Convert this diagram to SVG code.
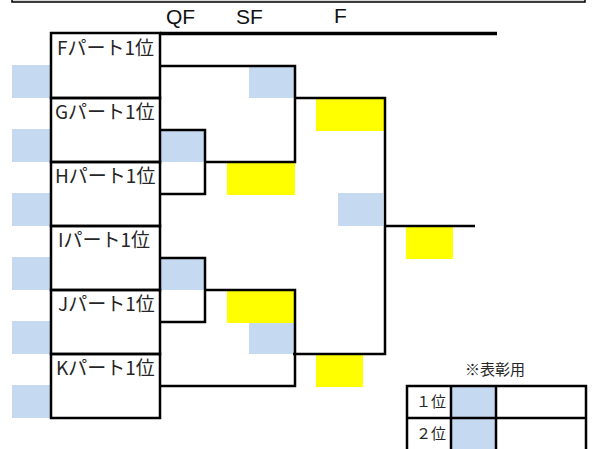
<svg xmlns="http://www.w3.org/2000/svg" width="593" height="449" viewBox="0 0 593 449">
<style>
.bg{fill:#ffffff}
.blue{fill:#C5D9F1}
.yel{fill:#FFFF00}
.ln{fill:none;stroke:#000;stroke-width:2.5}
.box{fill:none;stroke:#000;stroke-width:2.5}
.nm{font-family:"Noto Sans CJK JP","Noto Sans",sans-serif;font-size:19px;fill:#262626}
.hd{font-family:"Liberation Sans",Arial,sans-serif;font-size:21px;fill:#111}
.sm{font-family:"Noto Sans CJK JP","Noto Sans",sans-serif;font-size:15px;fill:#262626}
</style>
<rect class="bg" x="0" y="0" width="593" height="449"/>
<rect x="12" y="-10" width="573" height="12" fill="#d9d9d9" stroke="#000" stroke-width="1.5"/>
<g id="headers">
<text class="hd" x="166" y="24">QF</text>
<text class="hd" x="236" y="24">SF</text>
<text class="hd" x="334" y="23">F</text>
<path d="M160,33.5 H497" stroke="#000" stroke-width="3.5"/>
</g>
<g id="seed-cells">
<rect class="blue" x="12" y="65" width="39" height="33"/>
<rect class="blue" x="12" y="129" width="39" height="33"/>
<rect class="blue" x="12" y="193" width="39" height="33"/>
<rect class="blue" x="12" y="257" width="39" height="33"/>
<rect class="blue" x="12" y="321" width="39" height="33"/>
<rect class="blue" x="12" y="385" width="39" height="33"/>
</g>
<g id="result-cells">
<rect class="blue" x="249" y="66" width="45" height="32"/>
<rect class="blue" x="160" y="130" width="45" height="32"/>
<rect class="blue" x="160" y="258" width="45" height="32"/>
<rect class="blue" x="249" y="322" width="45" height="32"/>
<rect class="blue" x="338" y="193" width="45" height="33"/>
<rect class="yel" x="227" y="162" width="68" height="33"/>
<rect class="yel" x="316" y="98" width="69" height="33"/>
<rect class="yel" x="406" y="226" width="47" height="33"/>
<rect class="yel" x="227" y="290" width="67" height="33"/>
<rect class="yel" x="316" y="354" width="47" height="33"/>
</g>
<g id="nodeF"><rect class="box" x="51" y="33" width="109" height="65"/><text class="nm" x="57" y="55">Fパート1位</text></g>
<g id="nodeG"><rect class="box" x="51" y="98" width="109" height="64"/><text class="nm" x="55" y="119">Gパート1位</text></g>
<g id="nodeH"><rect class="box" x="51" y="162" width="109" height="64"/><text class="nm" x="55" y="183">Hパート1位</text></g>
<g id="nodeI"><rect class="box" x="51" y="226" width="109" height="64"/><text class="nm" x="58" y="247">Iパート1位</text></g>
<g id="nodeJ"><rect class="box" x="51" y="290" width="109" height="64"/><text class="nm" x="58" y="311">Jパート1位</text></g>
<g id="nodeK"><rect class="box" x="51" y="354" width="109" height="64"/><text class="nm" x="56" y="375">Kパート1位</text></g>
<g id="connectors">
<path class="ln" d="M160,66 H295 V162 H205"/>
<path class="ln" d="M160,130 H205 V194 H160"/>
<path class="ln" d="M295,98 H385 V354 H293"/>
<path class="ln" d="M385,226 H475"/>
<path class="ln" d="M160,258 H205 V322 H160"/>
<path class="ln" d="M205,290 H295 V386 H160"/>
</g>
<g id="award-table">
<text class="sm" x="465" y="375">※表彰用</text>
<rect class="blue" x="451" y="386" width="45" height="63"/>
<path class="box" d="M407,452 V386 H586 V452 M451,386 V452 M496,386 V452 M407,418 H586"/>
<text class="sm" x="416" y="407">１位</text>
<text class="sm" x="416" y="439">２位</text>
</g>
</svg>
